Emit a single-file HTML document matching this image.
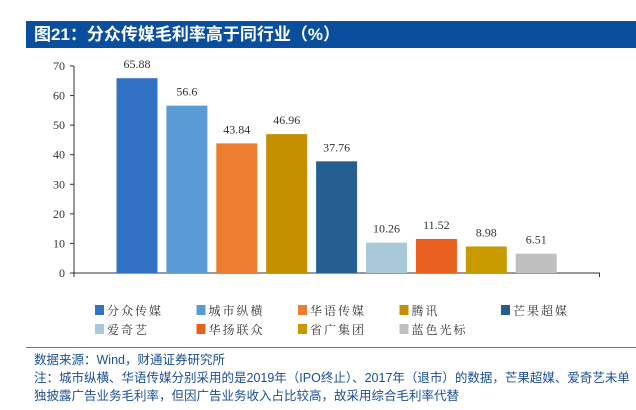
<!DOCTYPE html>
<html><head><meta charset="utf-8"><style>
body{margin:0;width:636px;height:410px;background:#fff;overflow:hidden;position:relative;font-family:"Liberation Sans","Noto Sans CJK SC",sans-serif}
#title{position:absolute;left:26px;top:21px;width:610px;height:27px;background:#0a4f9e;color:#fff;font-size:17px;line-height:27px;text-indent:8px;font-weight:bold}
.note{position:absolute;left:34px;color:#1a4e92;font-size:12.5px;white-space:nowrap}
</style></head><body>
<div id="title">图21：分众传媒毛利率高于同行业（%）</div>
<svg id="c" width="636" height="410" style="position:absolute;left:0;top:0"></svg>
<div style="position:absolute;left:26px;top:347px;width:610px;height:1px;background:#4a7fc1"></div>
<div class="note" style="top:349px">数据来源：Wind，财通证券研究所</div>
<div class="note" style="top:367px">注：城市纵横、华语传媒分别采用的是2019年（IPO终止）、2017年（退市）的数据，芒果超媒、爱奇艺未单</div>
<div class="note" style="top:385px">独披露广告业务毛利率，但因广告业务收入占比较高，故采用综合毛利率代替</div>
<script>
const categories=["分众传媒","城市纵横","华语传媒","腾讯","芒果超媒","爱奇艺","华扬联众","省广集团","蓝色光标"];
const values=[65.88,56.6,43.84,46.96,37.76,10.26,11.52,8.98,6.51];
const labels=["65.88","56.6","43.84","46.96","37.76","10.26","11.52","8.98","6.51"];
const ticks=[0,10,20,30,40,50,60,70];
const colors=["#3172c4","#5b9bd5","#ed7d31","#c49000","#255e91","#a9c8d8","#e8601f","#c89a00","#bfbfbf"];
const svg=document.getElementById('c');const NS="http://www.w3.org/2000/svg";
const y=v=>273-v*(207/70);const x=i=>137+i*49.9;
function mk(t,a){const e=document.createElementNS(NS,t);for(const k in a)e.setAttribute(k,a[k]);svg.appendChild(e);return e;}
let e=mk('line',{x1:74,y1:66,x2:74,y2:277,stroke:'#333'});

e=mk('line',{x1:74,y1:273,x2:600,y2:273,stroke:'#333'});

mk('line',{x1:599.5,y1:273,x2:599.5,y2:277,stroke:'#333'});
ticks.forEach(t=>{mk('line',{x1:70,y1:y(t),x2:74,y2:y(t),stroke:'#333'});
const tx=mk('text',{x:65,y:y(t)+4,'text-anchor':'end','font-size':12,'font-family':'Liberation Serif, serif',fill:'#333'});tx.textContent=t;
});
values.forEach((v,i)=>{const r=mk('rect',{x:x(i)-20.5,y:y(v),width:41,height:273-y(v),fill:colors[i]});

const t=mk('text',{x:x(i),y:y(v)-10,'text-anchor':'middle','font-size':12,'font-family':'Liberation Serif, serif',fill:'#333'});t.textContent=labels[i];
});
categories.forEach((c,i)=>{const lx=95+(i%5)*101.5,ly=(i<5?310:329);
const r=mk('rect',{x:lx,y:ly-5,width:9,height:10,fill:colors[i]});

const t=mk('text',{x:lx+12,y:ly+5,'font-size':12,'font-family':'Noto Serif CJK SC, serif',fill:'#333','letter-spacing':'2'});t.textContent=c;
});
</script>
</body></html>
